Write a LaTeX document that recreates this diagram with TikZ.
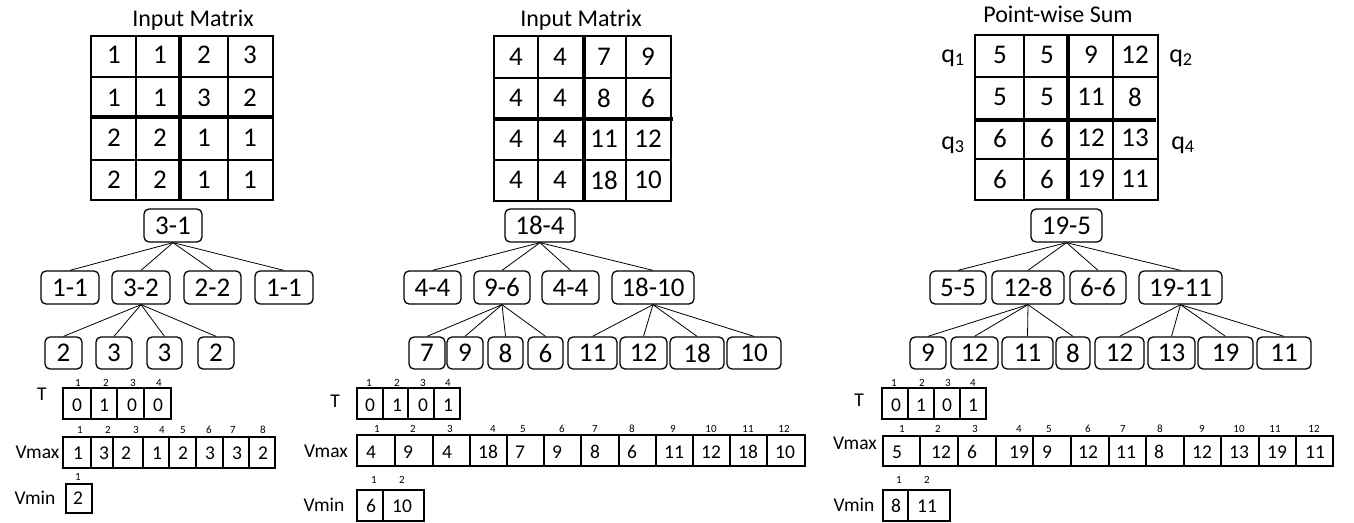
\documentclass[tikz,border=0pt]{standalone}
\usepackage{fontspec}
\setmainfont{Carlito}
\tikzset{
  gline/.style={line width=1.3pt},
  thk/.style={line width=4.5pt},
  mv/.style={font=\fontsize{27}{29}\selectfont, inner sep=0pt},
  tbox/.style={draw, rounded corners=5pt, line width=1.3pt, inner sep=0pt, font=\fontsize{27}{29}\selectfont},
  edge/.style={line width=0.8pt},
  aline/.style={line width=1.3pt},
  av/.style={font=\fontsize{19.5}{21}\selectfont, inner sep=0pt},
  ix/.style={font=\fontsize{11}{12}\selectfont, inner sep=0pt},
  lab/.style={font=\fontsize{19.5}{21}\selectfont, inner sep=0pt},
  ttl/.style={font=\fontsize{24}{26}\selectfont, inner sep=0pt, anchor=base},
  ql/.style={font=\fontsize{26}{28}\selectfont, inner sep=0pt},
}
\newcommand{\tb}[6]{\node[tbox, minimum width={(#3)-(#2)}, minimum height={(#5)-(#4)}] (#1) at ({((#2)+(#3))/2},{((#4)+(#5))/2}) {#6};}
\newcommand{\mrow}[6]{\node[mv] (#1a) at (\ca,#2) {#3}; \node[mv] (#1b) at (\cb,#2) {#4}; \node[mv] (#1c) at (\cc,#2) {#5}; \node[mv] (#1d) at (\cd,#2) {#6};}
\newcommand{\arrbox}[5]{\draw[aline] (#1,#3) rectangle (#2,#4); \foreach \d in {#5} {\draw[aline] (\d,#3) -- (\d,#4);}}
\begin{document}
\begin{tikzpicture}[x=1pt,y=-1pt]
\useasboundingbox (0,0) rectangle (1354,522);

% ================= Panel 1 =================
\node[ttl] (t1) at (193,27) {Input Matrix};
\draw[gline] (91,36) rectangle (273,200);
\draw[gline] (136,36)--(136,200) (228,36)--(228,200) (91,77)--(273,77) (91,160)--(273,160);
\draw[thk] (180,36)--(180,200) (91,117)--(273,117);
\def\ca{114}\def\cb{160}\def\cc{204}\def\cd{250}
\mrow{m1r1}{55}{1}{1}{2}{3}
\mrow{m1r2}{98}{1}{1}{3}{2}
\mrow{m1r3}{138}{2}{2}{1}{1}
\mrow{m1r4}{180}{2}{2}{1}{1}

\tb{p1r}{144}{202}{209}{242}{3-1}
\tb{p1a}{41}{99}{271}{304}{1-1}
\tb{p1b}{112}{170}{271}{304}{3-2}
\tb{p1c}{184}{241}{271}{304}{2-2}
\tb{p1d}{255}{313}{271}{304}{1-1}
\tb{p1g1}{45}{82}{337}{369}{2}
\tb{p1g2}{96}{132}{337}{369}{3}
\tb{p1g3}{147}{182}{337}{369}{3}
\tb{p1g4}{198}{234}{337}{369}{2}
\foreach \c in {p1a,p1b,p1c,p1d} {\draw[edge] (p1r.south) -- (\c.north);}
\foreach \c in {p1g1,p1g2,p1g3,p1g4} {\draw[edge] (p1b.south) -- (\c.north);}

\node[lab] (p1T) at (42,394) {T};
\arrbox{63}{171}{388}{419}{91,117,144}
\foreach \x/\v [count=\k] in {77/0,104/1,132/0,158/0} {\node[av] (p1tv\k) at (\x,405) {\v};}
\foreach \x [count=\k] in {78,106,133,159} {\node[ix] (p1ti\k) at (\x,383) {\k};}

\node[lab] (p1Vmax) at (37.5,452) {Vmax};
\arrbox{63}{275}{437}{468}{91,113,143,169,196,223,249}
\foreach \x/\v [count=\k] in {78/1,104/3,126/2,157/1,183/2,210/3,237/3,263/2} {\node[av] (p1mv\k) at (\x,453) {\v};}
\foreach \x [count=\k] in {80,108,136,162,183,209,233,263} {\node[ix] (p1mi\k) at (\x,430) {\k};}

\node[lab] (p1Vmin) at (35,498) {Vmin};
\arrbox{66}{92}{484}{513}{}
\node[av] (p1nv1) at (78,498) {2};
\node[ix] (p1ni1) at (78,477) {1};

% ================= Panel 2 =================
\node[ttl] (t2) at (581,26) {Input Matrix};
\draw[gline] (494,36) rectangle (671,201);
\draw[gline] (538,36)--(538,201) (626,36)--(626,201) (494,78)--(671,78) (494,160)--(671,160);
\draw[thk] (584,36)--(584,201) (494,119)--(673,119);
\def\ca{516}\def\cb{560}\def\cc{604}\def\cd{648}
\mrow{m2r1}{57}{4}{4}{7}{9}
\mrow{m2r2}{98}{4}{4}{8}{6}
\mrow{m2r3}{139}{4}{4}{11}{12}
\mrow{m2r4}{180}{4}{4}{18}{10}

\tb{p2r}{505}{575}{209}{242}{18-4}
\tb{p2a}{404}{461}{271}{304}{4-4}
\tb{p2b}{474}{530}{271}{304}{9-6}
\tb{p2c}{542}{599}{271}{304}{4-4}
\tb{p2d}{612}{694}{271}{304}{18-10}
\tb{p2g1}{409}{445}{337}{369}{7}
\tb{p2g2}{447}{483}{337}{369}{9}
\tb{p2g3}{488}{523}{337}{369}{8}
\tb{p2g4}{528}{563}{337}{369}{6}
\tb{p2g5}{568}{617}{337}{369}{11}
\tb{p2g6}{620}{667}{337}{369}{12}
\tb{p2g7}{670}{724}{337}{369}{18}
\tb{p2g8}{727}{781}{337}{369}{10}
\foreach \c in {p2a,p2b,p2c,p2d} {\draw[edge] (p2r.south) -- (\c.north);}
\foreach \c in {p2g1,p2g2,p2g3,p2g4} {\draw[edge] (p2b.south) -- (\c.north);}
\foreach \c in {p2g5,p2g6,p2g7,p2g8} {\draw[edge] (p2d.south) -- (\c.north);}

\node[lab] (p2T) at (335,401) {T};
\arrbox{357}{460}{388}{419}{383,408,434}
\foreach \x/\v [count=\k] in {370/0,397/1,423/0,448/1} {\node[av] (p2tv\k) at (\x,405) {\v};}
\foreach \x [count=\k] in {369,397,423,448} {\node[ix] (p2ti\k) at (\x,383) {\k};}

\node[lab] (p2Vmax) at (326,451) {Vmax};
\arrbox{357}{805}{435}{466}{395,433,470,507,544,581,619,656,693,730,767}
\foreach \x/\v [count=\k] in {371/4,408/9,447/4,488/18,520/7,557/9,595/8,632/6,674/11,711/12,748/18,785/10} {\node[av] (p2mv\k) at (\x,452) {\v};}
\foreach \x [count=\k] in {377,413,450,493,523,562,595,632,673,711,748,784} {\node[ix] (p2mi\k) at (\x,429) {\k};}

\node[lab] (p2Vmin) at (324,505) {Vmin};
\arrbox{357}{424}{490}{521}{383}
\node[av] (p2nv1) at (371,506) {6};
\node[av] (p2nv2) at (402,506) {10};
\node[ix] (p2ni1) at (374,480) {1};
\node[ix] (p2ni2) at (402,480) {2};

% ================= Panel 3 =================
\node[ttl] (t3) at (1058,22) {Point-wise Sum};
\draw[gline] (975,35) rectangle (1158,200);
\draw[gline] (1024,35)--(1024,200) (1113,35)--(1113,200) (975,77)--(1158,77) (975,159)--(1158,159);
\draw[thk] (1068,35)--(1068,200) (975,120)--(1156,120);
\def\ca{1000}\def\cb{1047}\def\cc{1091}\def\cd{1135}
\mrow{m3r1}{55}{5}{5}{9}{12}
\mrow{m3r2}{97}{5}{5}{11}{8}
\mrow{m3r3}{138}{6}{6}{12}{13}
\mrow{m3r4}{179}{6}{6}{19}{11}
\node[ql] (q1) at (953,58) {q\textsubscript{1}};
\node[ql] (q2) at (1181,58) {q\textsubscript{2}};
\node[ql] (q3) at (953,145) {q\textsubscript{3}};
\node[ql] (q4) at (1183,145) {q\textsubscript{4}};

\tb{p3r}{1031}{1102}{209}{242}{19-5}
\tb{p3a}{930}{986}{271}{304}{5-5}
\tb{p3b}{992}{1064}{271}{304}{12-8}
\tb{p3c}{1070}{1126}{271}{304}{6-6}
\tb{p3d}{1139}{1222}{271}{304}{19-11}
\tb{p3g1}{910}{946}{337}{369}{9}
\tb{p3g2}{951}{998}{337}{369}{12}
\tb{p3g3}{1002}{1053}{337}{369}{11}
\tb{p3g4}{1056}{1090}{337}{369}{8}
\tb{p3g5}{1095}{1144}{337}{369}{12}
\tb{p3g6}{1148}{1195}{337}{369}{13}
\tb{p3g7}{1198}{1253}{337}{369}{19}
\tb{p3g8}{1257}{1311}{337}{369}{11}
\foreach \c in {p3a,p3b,p3c,p3d} {\draw[edge] (p3r.south) -- (\c.north);}
\foreach \c in {p3g1,p3g2,p3g3,p3g4} {\draw[edge] (p3b.south) -- (\c.north);}
\foreach \c in {p3g5,p3g6,p3g7,p3g8} {\draw[edge] (p3d.south) -- (\c.north);}

\node[lab] (p3T) at (859,400) {T};
\arrbox{882}{986}{388}{419}{908,934,960}
\foreach \x/\v [count=\k] in {896/0,921/1,947/0,973/1} {\node[av] (p3tv\k) at (\x,405) {\v};}
\foreach \x [count=\k] in {894,922,948,973} {\node[ix] (p3ti\k) at (\x,383) {\k};}

\node[lab] (p3Vmax) at (855,443) {Vmax};
\arrbox{883}{1333}{436}{466}{920,958,996,1033,1071,1109,1146,1184,1221,1259,1296}
\foreach \x/\v [count=\k] in {897/5,941/12,972/6,1019/19,1047/9,1088/12,1126/11,1159/8,1202/12,1239/13,1277/19,1315/11} {\node[av] (p3mv\k) at (\x,452) {\v};}
\foreach \x [count=\k] in {902,938,975,1019,1049,1088,1123,1160,1202,1239,1275,1314} {\node[ix] (p3mi\k) at (\x,429) {\k};}

\node[lab] (p3Vmin) at (854,505) {Vmin};
\arrbox{883}{950}{490}{521}{908}
\node[av] (p3nv1) at (896,506) {8};
\node[av] (p3nv2) at (927,506) {11};
\node[ix] (p3ni1) at (899,480) {1};
\node[ix] (p3ni2) at (927,480) {2};
\end{tikzpicture}
\end{document}
